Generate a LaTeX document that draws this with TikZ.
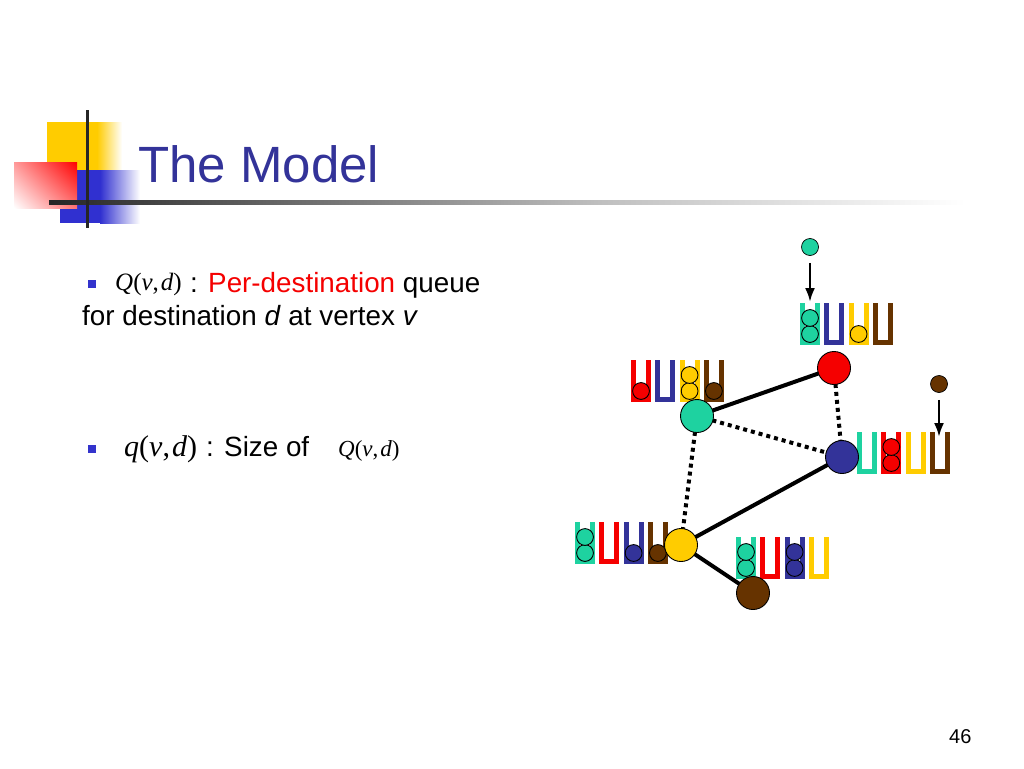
\documentclass[tikz,border=0pt]{standalone}
\usepackage{fontspec}
\setmainfont{Liberation Sans}
\newfontfamily\tms{Liberation Serif}
\usetikzlibrary{arrows.meta,shadings}
\definecolor{cteal}{RGB}{30,210,160}
\definecolor{cred}{RGB}{245,0,0}
\definecolor{cblue}{RGB}{51,51,153}
\definecolor{cyellow}{RGB}{255,204,0}
\definecolor{cbrown}{RGB}{102,51,0}
\definecolor{titleblue}{RGB}{51,51,153}
\definecolor{bulletblue}{RGB}{51,51,204}
\definecolor{decoblue}{RGB}{48,48,208}
\newcommand{\queueU}[3]{%
  \draw[qwall, draw=#3] (#1+2.5,#2) -- (#1+2.5,#2+39.5) -- (#1+17.5,#2+39.5) -- (#1+17.5,#2);}
\newcommand{\qball}[3]{\filldraw[qballst, fill=#3] (#1,#2) circle (8.4);}
\newcommand{\qslot}[4]{%
  \queueU{#1}{#2}{#3}%
  \ifnum#4>0 \qball{#1+10}{#2+31}{#3}\fi
  \ifnum#4>1 \qball{#1+10}{#2+15}{#3}\fi}
\tikzset{
  qwall/.style={line width=5pt, line join=miter, line cap=butt},
  qballst/.style={draw=black, line width=0.9pt},
  gnode/.style={circle, draw=black, line width=0.9pt, minimum size=33pt, inner sep=0pt},
  snode/.style={circle, draw=black, line width=0.7pt, minimum size=17pt, inner sep=0pt},
  solidedge/.style={line width=4pt},
  dotedge/.style={line width=4pt, dash pattern=on 4pt off 4pt},
  arr/.style={line width=2.5pt, -{Latex[length=14pt,width=10pt]}},
  txt/.style={anchor=base west, inner sep=0pt, font=\fontsize{27.8}{30}\selectfont},
  bullet/.style={fill=bulletblue},
}
\begin{document}
\begin{tikzpicture}[x=1pt,y=-1pt]
\useasboundingbox[fill=white] (0,0) rectangle (1024,768);
% decoration
\fill[cyellow] (47,122) rectangle (97,188);
\shade[left color=cyellow, right color=white] (97,122) rectangle (122,188);
\fill[decoblue] (60,170) rectangle (100,223);
\shade[left color=decoblue, right color=white] (100,170) rectangle (140,223);
\shade[upper right=red, upper left=red!40, lower right=red!55, lower left=white] (14,162) rectangle (77,208);
\shade[left color=black!85, right color=black!25] (49,200) rectangle (600,204);
\shade[left color=black!25, right color=white] (600,200) rectangle (965,204);
\draw[line width=3pt, black!85] (87,110) -- (87,228);
% title
\node[anchor=base west, inner sep=0pt, font=\fontsize{51}{55}\selectfont, text=titleblue] (title) at (138,182) {The Model};
% bullets text
\fill[bullet] (88,280) rectangle (96,288);
\node[anchor=base west, inner sep=0pt, font=\tms\fontsize{25}{28}\selectfont] (q1) at (115,290) {\itshape Q\upshape(\itshape v\upshape,\kern2pt\itshape d\upshape)};
\node[txt] (l1) at (190,292) {: \textcolor{cred}{Per-destination} queue};
\node[txt] (l2) at (82,325) {for destination \textit{d} at vertex \textit{v}};
\fill[bullet] (88,445) rectangle (96,453);
\node[anchor=base west, inner sep=0pt, font=\tms\fontsize{30}{32}\selectfont] (q2) at (124,456) {\itshape q\upshape(\itshape v\upshape,\kern2pt\itshape d\upshape)};
\node[txt] (l3) at (206,456) {: Size of};
\node[anchor=base west, inner sep=0pt, font=\tms\fontsize{23}{26}\selectfont] (q3) at (338,456) {\itshape Q\upshape(\itshape v\upshape,\kern2pt\itshape d\upshape)};
\node[anchor=base west, inner sep=0pt, font=\fontsize{20}{22}\selectfont] (pg) at (949,743) {46};
% queues
\qslot{800}{303}{cteal}{2}\qslot{824.3}{303}{cblue}{0}\qslot{848.6}{303}{cyellow}{1}\qslot{872.9}{303}{cbrown}{0}
\qslot{631}{360}{cred}{1}\qslot{655.3}{360}{cblue}{0}\qslot{679.6}{360}{cyellow}{2}\qslot{703.9}{360}{cbrown}{1}
\qslot{857}{432}{cteal}{0}\qslot{881.3}{432}{cred}{2}\qslot{905.6}{432}{cyellow}{0}\qslot{929.9}{432}{cbrown}{0}
\qslot{575}{522}{cteal}{2}\qslot{599.3}{522}{cred}{0}\qslot{623.6}{522}{cblue}{1}\qslot{647.9}{522}{cbrown}{1}
\qslot{736}{537}{cteal}{2}\qslot{760.3}{537}{cred}{0}\qslot{784.6}{537}{cblue}{2}\qslot{808.9}{537}{cyellow}{0}
% graph nodes (positions), edges, then nodes drawn on top
\coordinate (r) at (834,368);
\coordinate (t) at (697,416);
\coordinate (b) at (842,457);
\coordinate (y) at (681,545);
\coordinate (w) at (753,593);
\draw[solidedge] (r) -- (t);
\draw[dotedge] (r) -- (b);
\draw[dotedge] (t) -- (b);
\draw[dotedge] (t) -- (y);
\draw[solidedge] (b) -- (y);
\draw[solidedge] (y) -- (w);
\node[gnode, fill=cred] (nr) at (r) {};
\node[gnode, fill=cteal] (nt) at (t) {};
\node[gnode, fill=cblue] (nb) at (b) {};
\node[gnode, fill=cyellow] (ny) at (y) {};
\node[gnode, fill=cbrown] (nw) at (w) {};
% arrivals
\node[snode, fill=cteal] (st) at (810,247) {};
\node[snode, fill=cbrown] (sw) at (939,384) {};
\coordinate (ta) at (810,302);
\coordinate (wa) at (939,437);
\draw[arr, shorten <=7pt] (st) -- (ta);
\draw[arr, shorten <=7pt] (sw) -- (wa);
\end{tikzpicture}
\end{document}
